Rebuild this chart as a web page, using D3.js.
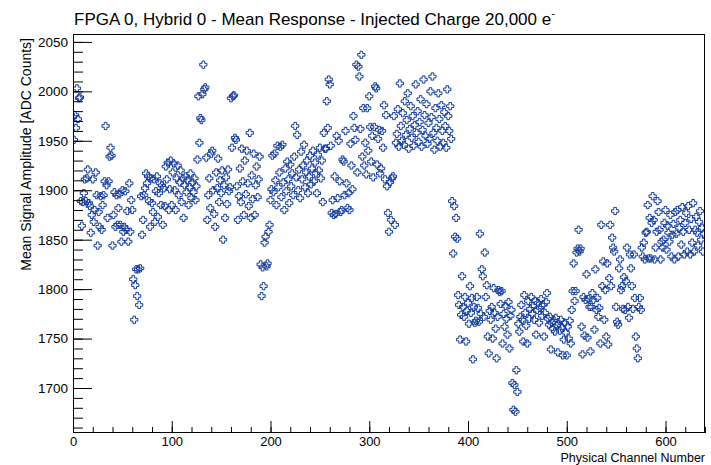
<!DOCTYPE html>
<html><head><meta charset="utf-8">
<script src="https://cdn.jsdelivr.net/npm/d3@7"></script>
<style>
body{margin:0;background:#fff}
svg{display:block}
text{font-family:"Liberation Sans",Arial,Helvetica,sans-serif;fill:#000}
</style>
</head><body>
<svg id="c" width="711" height="465"></svg>
<script>
// Mean response per physical channel, in five 128-channel blocks
const chip0=[1974,1951,1976,1963,2003,1972,1993,1994,1889,1864,
 1888,1897,1911,1889,1912,1921,1887,1884,1857,1875,
 1911,1868,1880,1918,1895,1844,1878,1863,1894,1860,
 1885,1895,1909,1965,1905,1872,1909,1934,1943,1935,
 1844,1875,1898,1863,1895,1865,1882,1896,1865,1848,
 1900,1858,1863,1899,1860,1879,1848,1907,1858,1890,
 1880,1810,1769,1804,1820,1793,1820,1784,1821,1894,
 1855,1870,1895,1902,1917,1907,1914,1889,1863,1912,
 1887,1878,1911,1868,1899,1914,1873,1897,1907,1885,
 1905,1865,1902,1884,1924,1911,1928,1880,1901,1930,
 1885,1918,1927,1900,1880,1912,1925,1895,1908,1920,
 1888,1912,1872,1905,1914,1898,1910,1885,1903,1917,
 1892,1908,1898,1912,1890,1904,1931,1995];
const chip1=[1948,1973,1971,1997,2027,2002,2004,1933,1870,1895,
 1912,1882,1937,1940,1900,1876,1863,1918,1902,1932,
 1888,1910,1897,1920,1850,1905,1872,1913,1886,1921,
 1899,1903,1993,1943,1995,1996,1953,1951,1904,1870,
 1894,1922,1888,1942,1909,1875,1930,1896,1940,1907,
 1884,1958,1872,1915,1891,1937,1875,1905,1924,1893,
 1911,1934,1825,1793,1822,1803,1847,1853,1823,1826,
 1858,1865,1890,1901,1935,1898,1937,1910,1885,1945,
 1903,1918,1944,1893,1946,1908,1880,1922,1899,1929,
 1911,1887,1926,1904,1917,1895,1934,1965,1913,1956,
 1900,1921,1892,1939,1911,1925,1946,1903,1918,1930,
 1897,1914,1935,1906,1922,1940,1909,1928,1917,1897,
 1936,1920,1943,1912,1930,1888,1958,1942];
const chip2=[1942,1990,1963,2012,2007,1945,1877,1890,1875,1914,
 1876,1955,1892,1950,1909,1878,1880,1931,1929,1895,
 1960,1907,1882,1897,1880,1947,1925,1901,1975,1963,
 1951,2027,1918,2025,2015,1962,2037,1934,1983,1925,
 1948,1916,1983,1940,1995,1964,1929,1955,1913,1964,
 2005,2003,1926,1952,1961,1917,1922,1960,1943,1986,
 1911,1976,1904,1877,1858,1908,1870,1912,1914,1975,
 1865,1948,1957,1982,1944,2008,1965,1950,1978,1946,
 1990,1956,1971,1998,1942,1962,1985,1953,1975,1945,
 1966,2007,1958,1980,1949,1969,1992,1944,1961,2012,
 1976,1955,1987,1947,1968,1952,2000,1974,2015,1958,
 1941,1983,1963,1950,1998,1972,1944,1986,1960,1948,
 1979,1965,1943,2002,1975,1960,1985,1952];
const chip3=[1889,1836,1884,1853,1872,1851,1794,1784,1749,1774,
 1813,1782,1772,1792,1747,1778,1786,1765,1803,1776,
 1791,1729,1782,1766,1768,1792,1781,1767,1856,1775,
 1820,1813,1772,1837,1792,1804,1752,1735,1778,1769,
 1782,1750,1801,1776,1760,1730,1772,1799,1797,1785,
 1798,1745,1775,1762,1783,1770,1754,1787,1740,1773,
 1779,1705,1678,1703,1676,1718,1696,1765,1757,1772,
 1784,1769,1747,1794,1776,1763,1745,1788,1770,1780,
 1792,1775,1783,1769,1788,1754,1779,1786,1766,1781,
 1790,1773,1784,1752,1776,1787,1796,1770,1764,1772,
 1739,1766,1760,1768,1757,1771,1763,1736,1765,1758,
 1769,1761,1733,1749,1766,1756,1733,1762,1750,1768,
 1745,1779,1798,1826,1788,1798,1837,1841];
const chip4=[1860,1838,1841,1762,1734,1792,1753,1789,1815,1751,
 1790,1782,1737,1782,1796,1789,1759,1820,1779,1791,
 1772,1781,1745,1865,1803,1828,1769,1799,1752,1826,
 1744,1811,1865,1803,1852,1842,1838,1879,1782,1767,
 1764,1821,1830,1799,1803,1780,1812,1779,1808,1842,
 1782,1771,1835,1821,1803,1780,1835,1791,1752,1740,
 1730,1782,1791,1779,1842,1833,1847,1830,1857,1858,
 1885,1831,1872,1831,1867,1894,1870,1830,1842,1858,
 1889,1878,1860,1830,1848,1842,1850,1867,1880,1840,
 1864,1857,1848,1875,1833,1855,1866,1830,1878,1856,
 1880,1833,1862,1870,1845,1883,1858,1835,1867,1877,
 1838,1884,1860,1835,1871,1847,1887,1838,1860,1873,
 1857,1844,1868,1879,1850,1862,1838,1856];

const xTicks=[0,100,200,300,400,500,600];
const yTicks=[1700,1750,1800,1850,1900,1950,2000,2050];
const titleText="FPGA 0, Hybrid 0 - Mean Response - Injected Charge 20,000 e";
const xLabel="Physical Channel Number";
const yLabel="Mean Signal Amplitude [ADC Counts]";

const values=chip0.concat(chip1,chip2,chip3,chip4);
const points=values.map((v,i)=>({ch:i,v:v}));

const L=73,R=705,T=34,B=433;
const svg=d3.select("#c");
const x=d3.scaleLinear().domain([0,640]).range([L,R]);
const y=d3.scaleLinear().domain([1654.5,2058]).range([B,T]);

svg.append("defs").append("clipPath").attr("id","clip")
  .append("rect").attr("x",L).attr("y",T).attr("width",R-L).attr("height",B-T);

// markers (open cross)
const a=1.3,h=3.6;
const crossPath=`M${-a},${-h}H${a}V${-a}H${h}V${a}H${a}V${h}H${-a}V${a}H${-h}V${-a}H${-a}Z`;
svg.append("g").attr("clip-path","url(#clip)")
  .selectAll("path").data(points).join("path")
  .attr("d",crossPath)
  .attr("transform",d=>`translate(${x(d.ch)},${y(d.v)})`)
  .attr("fill","none").attr("stroke","#123c9e").attr("stroke-width",1);

// axes
const fs="13px";
const xMinor=svg.append("g").attr("transform",`translate(0,${B})`)
  .call(d3.axisBottom(x).tickValues(d3.range(0,641,20)).tickSize(-6).tickFormat(""));
const xMajor=svg.append("g").attr("transform",`translate(0,${B})`)
  .call(d3.axisBottom(x).tickValues(xTicks).tickSize(-12).tickPadding(4).tickFormat(d3.format("d")));
const yMinor=svg.append("g").attr("transform",`translate(${L},0)`)
  .call(d3.axisLeft(y).tickValues(d3.range(1660,2051,10)).tickSize(-10).tickFormat(""));
const yMajor=svg.append("g").attr("transform",`translate(${L},0)`)
  .call(d3.axisLeft(y).tickValues(yTicks).tickSize(-19).tickPadding(5).tickFormat(d3.format("d")));
[xMinor,xMajor,yMinor,yMajor].forEach(g=>{
  g.select(".domain").remove();
  g.selectAll("line").attr("stroke","#000").attr("stroke-width",1);
  g.selectAll("text").style("font-size",fs).attr("fill","#000");
});
yMajor.selectAll("text").style("font-size","13.5px");

// frame
svg.append("rect").attr("x",L+0.5).attr("y",T+0.5).attr("width",R-L-1).attr("height",B-T-1)
  .attr("fill","none").attr("stroke","#000").attr("stroke-width",1);

// title
const t=svg.append("text").attr("x",74).attr("y",25).style("font-size","17px");
t.append("tspan").text(titleText);
t.append("tspan").attr("dy",-8).style("font-size","11px").text("-");

// axis labels
svg.append("text").attr("x",R).attr("y",462).attr("text-anchor","end")
  .style("font-size","12.5px").text(xLabel);
svg.append("text").attr("transform",`translate(31,38) rotate(-90)`).attr("text-anchor","end")
  .style("font-size","14px").text(yLabel);
</script>
</body></html>
